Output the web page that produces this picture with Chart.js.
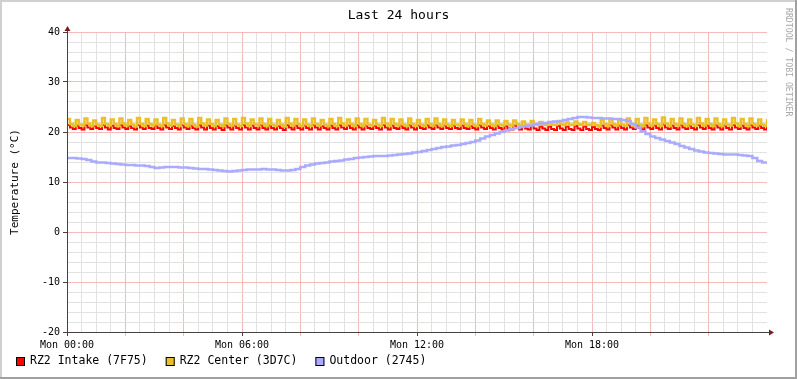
<!DOCTYPE html>
<html>
<head>
<meta charset="utf-8">
<script src="https://cdn.jsdelivr.net/npm/chart.js@4/dist/chart.umd.min.js"></script>
<style>
html, body { margin: 0; padding: 0; background: #fff; }
#wrap { width: 797px; height: 379px; }
</style>
</head>
<body>
<div id="wrap"><canvas id="tempChart" width="797" height="379"></canvas></div>
<script>
// hours since Mon 00:00 on the x axis
const chartTitle = 'Last 24 hours';
const timeLabels = ['Mon 00:00', 'Mon 06:00', 'Mon 12:00', 'Mon 18:00'];
const yTicks = [-20, -10, 0, 10, 20, 30, 40];
const seriesNames = ['RZ2 Intake (7F75)', 'RZ2 Center (3D7C)', 'Outdoor (2745)'];
const seriesColors = ['#ff0000', '#eac02a', '#aaaaff'];

// RZ2 sensors: one sample every 6 minutes
const sensorStepMin = 6;
const intake = [
  21.4,20.9,20.6, 21.3,20.8,20.5, 21.4,20.9,20.6, 21.2,20.8,20.6, 21.4,20.9,20.5,
  21.3,20.8,20.6, 21.4,20.9,20.6, 21.2,20.8,20.5, 21.4,20.9,20.6, 21.3,20.8,20.6,
  21.3,20.8,20.5, 21.4,20.9,20.6, 21.2,20.8,20.5, 21.4,20.9,20.6, 21.3,20.8,20.5,
  21.4,20.9,20.5, 21.3,20.8,20.5, 21.2,20.8,20.4, 21.4,20.9,20.5, 21.3,20.8,20.5,
  21.4,20.9,20.5, 21.3,20.8,20.5, 21.4,20.8,20.5, 21.3,20.8,20.5, 21.2,20.8,20.4,
  21.4,20.9,20.5, 21.3,20.8,20.5, 21.3,20.8,20.5, 21.4,20.9,20.5, 21.2,20.8,20.5,
  21.3,20.8,20.5, 21.4,20.9,20.6, 21.3,20.8,20.5, 21.4,20.9,20.5, 21.3,20.8,20.6,
  21.2,20.8,20.5, 21.4,20.9,20.5, 21.3,20.8,20.6, 21.3,20.8,20.5, 21.4,20.9,20.5,
  21.3,20.8,20.6, 21.4,20.9,20.6, 21.4,20.9,20.6, 21.3,20.8,20.6, 21.3,20.8,20.6,
  21.3,20.8,20.6, 21.2,20.8,20.5, 21.4,20.9,20.6, 21.2,20.8,20.5, 21.3,20.8,20.5,
  21.2,20.7,20.5, 21.3,20.8,20.5, 21.2,20.7,20.5, 21.2,20.7,20.4, 21.1,20.7,20.4,
  21.1,20.6,20.4, 21.2,20.7,20.4, 21.1,20.6,20.4, 21.2,20.7,20.4, 21.1,20.6,20.4,
  21.0,20.6,20.4, 21.3,20.8,20.5, 21.4,20.9,20.5, 21.3,20.8,20.5, 21.4,20.9,20.6,
  21.3,20.8,20.5, 21.4,20.9,20.6, 21.3,20.8,20.5, 21.5,20.9,20.6, 21.3,20.8,20.5,
  21.4,20.9,20.6, 21.3,20.8,20.5, 21.4,20.9,20.6, 21.3,20.8,20.5, 21.4,20.9,20.5,
  21.3,20.8,20.5, 21.4,20.9,20.6, 21.3,20.8,20.5, 21.4,20.9,20.6, 21.3,20.8,20.5,
  21.4
];
const center = [
  22.6,21.6,21.2, 22.4,21.5,21.3, 22.7,21.7,21.2, 22.3,21.5,21.2, 22.8,21.6,21.3,
  22.5,21.6,21.2, 22.7,21.7,21.3, 22.4,21.5,21.1, 22.8,21.6,21.2, 22.6,21.6,21.3,
  22.5,21.5,21.2, 22.8,21.7,21.3, 22.4,21.5,21.2, 22.7,21.6,21.2, 22.6,21.5,21.1,
  22.8,21.7,21.3, 22.5,21.6,21.2, 22.4,21.5,21.2, 22.7,21.6,21.3, 22.6,21.5,21.2,
  22.8,21.7,21.2, 22.5,21.6,21.3, 22.7,21.6,21.2, 22.6,21.5,21.2, 22.4,21.5,21.1,
  22.8,21.7,21.3, 22.6,21.6,21.2, 22.5,21.5,21.2, 22.7,21.6,21.3, 22.4,21.5,21.2,
  22.6,21.6,21.2, 22.8,21.7,21.3, 22.5,21.6,21.2, 22.7,21.6,21.2, 22.6,21.5,21.3,
  22.4,21.5,21.2, 22.8,21.7,21.2, 22.6,21.6,21.3, 22.5,21.5,21.2, 22.7,21.6,21.2,
  22.4,21.5,21.2, 22.6,21.6,21.3, 22.7,21.6,21.2, 22.5,21.5,21.2, 22.4,21.5,21.3,
  22.5,21.6,21.2, 22.4,21.5,21.2, 22.6,21.6,21.3, 22.3,21.5,21.2, 22.3,21.5,21.3,
  22.2,21.5,21.3, 22.3,21.6,21.3, 22.1,21.5,21.3, 22.2,21.5,21.4, 22.0,21.5,21.4,
  21.9,21.5,21.4, 22.0,21.6,21.4, 21.9,21.5,21.4, 22.1,21.6,21.4, 22.0,21.5,21.4,
  21.8,21.4,21.1, 22.4,21.6,21.2, 22.6,21.6,21.3, 22.5,21.5,21.2, 22.7,21.6,21.2,
  22.6,21.5,21.2, 22.8,21.7,21.3, 22.5,21.6,21.2, 22.9,21.7,21.2, 22.6,21.6,21.3,
  22.7,21.6,21.2, 22.5,21.5,21.2, 22.8,21.7,21.3, 22.6,21.6,21.2, 22.7,21.6,21.2,
  22.5,21.5,21.3, 22.8,21.7,21.2, 22.6,21.6,21.2, 22.7,21.6,21.3, 22.5,21.5,21.2,
  22.6
];

// outdoor sensor: one sample every 10 minutes
const outdoorStepMin = 10;
const outdoor = [
  14.8,14.8,14.7,14.6,14.4,14.1,
  13.9,13.9,13.8,13.7,13.6,13.5,
  13.4,13.4,13.3,13.3,13.2,13.0,
  12.8,12.9,13.0,13.0,13.0,12.9,
  12.9,12.8,12.7,12.6,12.6,12.5,
  12.4,12.3,12.2,12.1,12.2,12.3,
  12.4,12.5,12.5,12.5,12.6,12.5,
  12.5,12.4,12.3,12.3,12.4,12.6,
  13.0,13.3,13.5,13.7,13.8,13.9,
  14.1,14.2,14.3,14.5,14.6,14.8,
  14.9,15.0,15.1,15.2,15.2,15.2,
  15.3,15.4,15.5,15.6,15.7,15.9,
  16.0,16.2,16.4,16.6,16.8,17.0,
  17.1,17.3,17.4,17.6,17.8,18.0,
  18.3,18.7,19.1,19.4,19.7,20.0,
  20.3,20.6,20.8,21.0,21.2,21.3,
  21.6,21.7,21.8,22.0,22.1,22.2,
  22.4,22.6,22.8,23.0,23.0,22.9,
  22.8,22.8,22.7,22.7,22.6,22.6,
  22.4,22.2,21.6,20.9,20.1,19.6,
  19.1,18.8,18.5,18.2,17.9,17.6,
  17.2,16.9,16.6,16.3,16.1,15.9,
  15.8,15.7,15.6,15.5,15.5,15.5,
  15.4,15.3,15.2,14.8,14.2,13.9,
  13.8
];

const MONO = '"DejaVu Sans Mono", "Liberation Mono", monospace';
const gridMinor = '#e2e2e2';
const gridMajor = '#f6baba';
const axisColor = '#4a4040';
const arrowColor = '#7a1c1c';

function toPoints(values, stepMin) {
  return values.map((v, i) => ({ x: i * stepMin / 60, y: v }));
}

// white page, shaded frame, title across the full width and the credit text
const framePlugin = {
  id: 'frame',
  beforeDraw(chart) {
    const c = chart.ctx;
    c.save();
    c.fillStyle = '#fff';
    c.fillRect(0, 0, chart.width, chart.height);
    c.restore();
  },
  afterDraw(chart) {
    const c = chart.ctx, w = chart.width, h = chart.height;
    c.save();
    c.fillStyle = '#d0d0d0';
    c.fillRect(0, 0, w, 2);
    c.fillRect(0, 0, 2, h);
    c.fillStyle = '#a0a0a0';
    c.fillRect(0, h - 2, w, 2);
    c.fillRect(w - 2, 0, 2, h);

    c.font = '13px ' + MONO;
    c.fillStyle = '#000';
    c.textAlign = 'center';
    c.textBaseline = 'middle';
    c.fillText(chartTitle, w / 2, 16);

    c.translate(w - 9, 8);
    c.rotate(Math.PI / 2);
    c.font = '8.2px ' + MONO;
    c.fillStyle = '#a8a8a8';
    c.textAlign = 'left';
    c.fillText('RRDTOOL / TOBI OETIKER', 0, 0);
    c.restore();
  }
};

// axis lines with the little arrow heads
const axisPlugin = {
  id: 'axes',
  afterDatasetsDraw(chart) {
    const a = chart.chartArea, c = chart.ctx;
    const x0 = Math.round(a.left) + 0.5, y0 = Math.round(a.bottom) + 0.5;
    c.save();
    c.strokeStyle = axisColor;
    c.lineWidth = 1;
    c.beginPath();
    c.moveTo(x0, y0 + 3);
    c.lineTo(x0, a.top - 3);
    c.moveTo(x0 - 3, y0);
    c.lineTo(a.right + 4, y0);
    c.stroke();
    c.fillStyle = arrowColor;
    c.beginPath();
    c.moveTo(x0 - 3, a.top - 1);
    c.lineTo(x0 + 3, a.top - 1);
    c.lineTo(x0, a.top - 6);
    c.closePath();
    c.fill();
    c.beginPath();
    c.moveTo(a.right + 2, y0 - 3);
    c.lineTo(a.right + 2, y0 + 3);
    c.lineTo(a.right + 7, y0);
    c.closePath();
    c.fill();
    c.restore();
  }
};

// legend in one row under the axis
const legendPlugin = {
  id: 'rrdLegend',
  afterDraw(chart) {
    const c = chart.ctx;
    const y = chart.chartArea.bottom + 29;
    let x = 16;
    c.save();
    c.font = '11.5px ' + MONO;
    c.textBaseline = 'middle';
    chart.data.datasets.forEach(ds => {
      c.fillStyle = ds.borderColor;
      c.fillRect(x, y - 4, 9, 9);
      c.strokeStyle = '#000';
      c.lineWidth = 1;
      c.strokeRect(x + 0.5, y - 3.5, 8, 8);
      c.fillStyle = '#000';
      c.fillText(ds.label, x + 14, y + 0.5);
      x += 14 + c.measureText(ds.label).width + 18;
    });
    c.restore();
  }
};

const ctx = document.getElementById('tempChart').getContext('2d');

new Chart(ctx, {
  type: 'line',
  data: {
    datasets: [
      { label: seriesNames[0], data: toPoints(intake, sensorStepMin), borderColor: seriesColors[0], backgroundColor: seriesColors[0], borderWidth: 2, order: 2 },
      { label: seriesNames[1], data: toPoints(center, sensorStepMin), borderColor: seriesColors[1], backgroundColor: seriesColors[1], borderWidth: 2.5, order: 1 },
      { label: seriesNames[2], data: toPoints(outdoor, outdoorStepMin), borderColor: seriesColors[2], backgroundColor: seriesColors[2], borderWidth: 2.5, order: 0 }
    ]
  },
  options: {
    responsive: false,
    animation: false,
    devicePixelRatio: 1,
    layout: { padding: { top: 32, right: 30, bottom: 0, left: 0 } },
    elements: {
      point: { radius: 0, hoverRadius: 0 },
      line: { stepped: true, tension: 0, fill: false }
    },
    plugins: {
      legend: { display: false },
      tooltip: { enabled: false },
      title: { display: false }
    },
    scales: {
      x: {
        type: 'linear',
        min: 0,
        max: 24,
        border: { display: false },
        grid: {
          color: c => (c.tick.value >= 24 ? 'transparent' : c.tick.value % 2 === 0 ? gridMajor : gridMinor),
          tickColor: c => (c.tick.value >= 24 ? 'transparent' : c.tick.value % 6 === 0 ? axisColor : c.tick.value % 2 === 0 ? gridMajor : 'transparent'),
          tickLength: 4
        },
        ticks: {
          stepSize: 0.5,
          autoSkip: false,
          maxRotation: 0,
          minRotation: 0,
          padding: 3,
          color: '#000',
          font: { family: MONO, size: 10 },
          callback: v => (v % 6 === 0 && v < 24 ? timeLabels[v / 6] : '')
        },
        afterFit: s => { s.height = 47; }
      },
      y: {
        min: yTicks[0],
        max: yTicks[yTicks.length - 1],
        border: { display: false },
        grid: {
          color: c => (c.tick.value % 10 === 0 ? gridMajor : gridMinor),
          tickColor: c => (c.tick.value % 10 === 0 ? axisColor : 'transparent'),
          tickLength: 4
        },
        ticks: {
          stepSize: 2,
          autoSkip: false,
          padding: 3,
          color: '#000',
          font: { family: MONO, size: 10 },
          callback: v => (yTicks.includes(v) ? String(v) : '')
        },
        title: {
          display: true,
          text: 'Temperature (°C)',
          color: '#000',
          font: { family: MONO, size: 11 },
          padding: { top: 9, bottom: 0 }
        },
        afterFit: s => { s.width = 67; }
      }
    }
  },
  plugins: [framePlugin, axisPlugin, legendPlugin]
});
</script>
</body>
</html>
